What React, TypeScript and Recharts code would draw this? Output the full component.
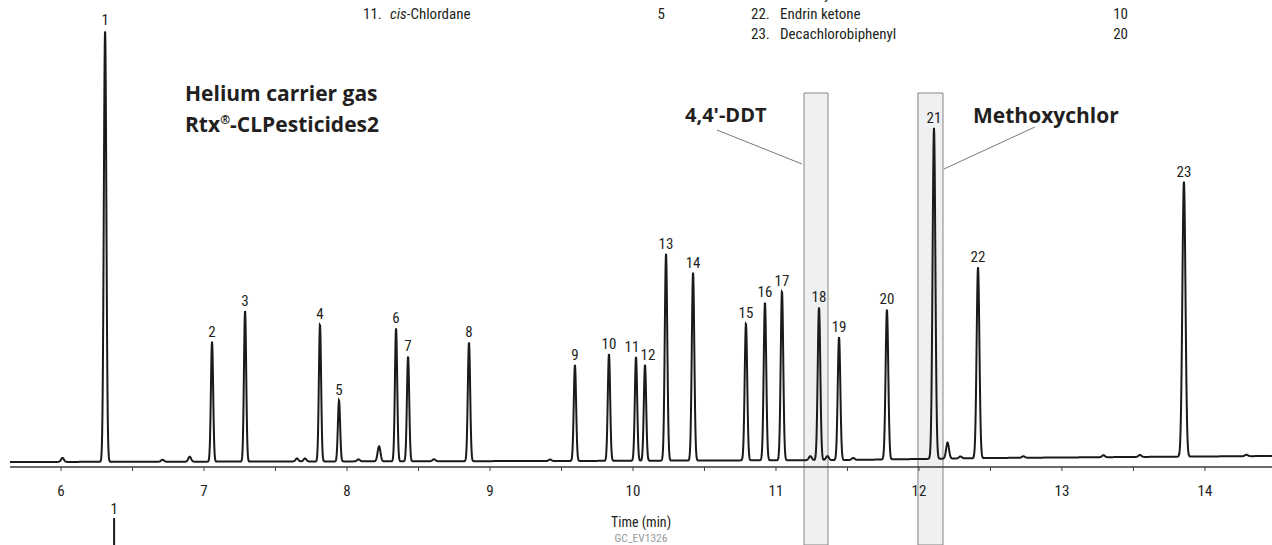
import React from 'react';
import {
  ComposedChart,
  Line,
  XAxis,
  YAxis,
  ReferenceArea,
  ReferenceLine,
  ReferenceDot,
  Customized,
  Label,
} from 'recharts';

// ---- data ----
const peakLabels = ['1', '2', '3', '4', '5', '6', '7', '8', '9', '10', '11', '12', '13', '14', '15', '16', '17', '18', '19', '20', '21', '22', '23'];
const peakTimes = [6.308, 7.056, 7.287, 7.811, 7.944, 8.343, 8.427, 8.853, 9.594, 9.832, 10.021, 10.084, 10.231, 10.42, 10.79, 10.923, 11.042, 11.301, 11.441, 11.776, 12.105, 12.413, 13.853];
const peakHeights = [432, 120, 151, 137, 61, 133, 105, 119, 96, 107, 104, 96, 207, 188, 137, 158, 169, 153, 123, 150, 331, 191, 275];
const peakWidths = [0.0088, 0.0078, 0.0078, 0.0078, 0.0078, 0.008, 0.008, 0.0082, 0.0082, 0.0082, 0.0082, 0.0082, 0.0088, 0.0088, 0.0088, 0.0088, 0.0088, 0.009, 0.009, 0.0093, 0.0097, 0.0097, 0.0108];
// small horizontal nudges of the peak numbers (min) where two labels sit close
const labelNudges = [0, 0, 0, 0, 0, 0, 0, 0, 0, 0, -0.028, 0.021, 0, 0, 0, 0, 0, 0, 0, 0, 0, 0, 0];

const minorTimes = [6.01, 6.71, 6.9, 7.65, 7.706, 8.08, 8.224, 8.608, 9.42, 11.24, 11.36, 11.54, 12.2, 12.29, 12.73, 13.29, 13.545, 14.29];
const minorHeights = [4, 2, 5, 3, 3, 2, 15, 2, 1.5, 4, 4, 2, 16, 2, 1.5, 2, 2, 1.5];

const baselineTimes = [5.64, 9.5, 11.5, 12.5, 14.47];
const baselineLevels = [0, 1, 2, 4, 6];

const axisTicks = [6, 6.5, 7, 7.5, 8, 8.5, 9, 9.5, 10, 10.5, 11, 11.5, 12, 12.5, 13, 13.5, 14];
const xDomain = [5.643, 14.469];

// highlighted windows (min)
const ddtWindow = [11.196, 11.364];
const methoxyWindow = [11.993, 12.168];

const narrow = '"Liberation Sans Narrow", "Roboto Condensed", "DejaVu Sans Condensed", Roboto, sans-serif';
const boldFont = '"Open Sans", "Noto Sans", sans-serif';

function baselineAt(t: number) {
  for (let i = 0; i < baselineTimes.length - 1; i++) {
    if (t <= baselineTimes[i + 1]) {
      const f = (t - baselineTimes[i]) / (baselineTimes[i + 1] - baselineTimes[i]);
      return baselineLevels[i] + f * (baselineLevels[i + 1] - baselineLevels[i]);
    }
  }
  return baselineLevels[baselineLevels.length - 1];
}

function buildTrace() {
  const rows: { t: number; v: number }[] = [];
  const step = 0.0018;
  for (let t = xDomain[0]; t <= xDomain[1] + 1e-9; t += step) {
    let v = baselineAt(t);
    for (let i = 0; i < peakTimes.length; i++) {
      const d = (t - peakTimes[i]) / peakWidths[i];
      if (Math.abs(d) < 8) v += peakHeights[i] * Math.exp(-0.5 * d * d);
    }
    for (let i = 0; i < minorTimes.length; i++) {
      const d = (t - minorTimes[i]) / 0.01;
      if (Math.abs(d) < 8) v += minorHeights[i] * Math.exp(-0.5 * d * d);
    }
    rows.push({ t: Math.round(t * 10000) / 10000, v });
  }
  return rows;
}

const trace = buildTrace();

function Overlay() {
  const ink = '#231f20';
  return (
    <g>
      <text x={185} y={101} fontFamily={boldFont} fontWeight={700} fontSize={21} fill={ink}>Helium carrier gas</text>
      <text x={185} y={132} fontFamily={boldFont} fontWeight={700} fontSize={21} fill={ink}>
        Rtx<tspan fontSize={12} dy={-8}>®</tspan><tspan dy={8}>-CLPesticides2</tspan>
      </text>
      <text x={685} y={122} fontFamily={boldFont} fontWeight={700} fontSize={20} fill={ink}>4,4'-DDT</text>
      <text x={973} y={123} fontFamily={boldFont} fontWeight={700} fontSize={21} fill={ink}>Methoxychlor</text>

      <g fontFamily={narrow} fontSize={15} fill={ink}>
        <text x={751} y={-1}>21.</text>
        <text x={780} y={-1}>Methoxychlor</text>
        <text x={363} y={19}>11.</text>
        <text x={390} y={19}><tspan fontStyle="italic">cis</tspan>-Chlordane</text>
        <text x={665} y={19} textAnchor="end">5</text>
        <text x={751} y={19}>22.</text>
        <text x={780} y={19}>Endrin ketone</text>
        <text x={1128} y={19} textAnchor="end">10</text>
        <text x={751} y={39}>23.</text>
        <text x={780} y={39}>Decachlorobiphenyl</text>
        <text x={1128} y={39} textAnchor="end">20</text>
      </g>
    </g>
  );
}

export default function App() {
  return (
    <div style={{ position: 'absolute', left: 0, top: 0, width: 1272, height: 545, background: '#fff' }}>
      <ComposedChart width={1272} height={545} data={trace} margin={{ top: 0, right: 0, bottom: 0, left: 10 }}>
        <XAxis
          dataKey="t"
          type="number"
          domain={xDomain}
          allowDataOverflow
          ticks={axisTicks}
          interval={0}
          tickFormatter={(v: number) => (Number.isInteger(v) ? String(v) : '')}
          height={78}
          axisLine={{ stroke: '#3a3a3a', strokeWidth: 1.5 }}
          tickLine={{ stroke: '#3a3a3a', strokeWidth: 1 }}
          tickSize={4}
          tickMargin={14}
          tick={{ fontSize: 15, fill: '#231f20', fontFamily: narrow }}
        >
          <Label value="Time (min)" position="insideBottom" offset={18} style={{ fontSize: 14, fill: '#231f20', fontFamily: narrow }} />
          <Label value="GC_EV1326" position="insideBottom" offset={3} style={{ fontSize: 11.5, fill: '#9a9a9a', fontFamily: narrow }} />
        </XAxis>
        <YAxis hide type="number" domain={[-5, 462]} allowDataOverflow />

        <ReferenceArea x1={ddtWindow[0]} x2={ddtWindow[1]} y1={-83} y2={369} ifOverflow="visible" fill="#eff0f2" fillOpacity={1} stroke="#858585" strokeWidth={1} />
        <ReferenceArea x1={methoxyWindow[0]} x2={methoxyWindow[1]} y1={-83} y2={369} ifOverflow="visible" fill="#eff0f2" fillOpacity={1} stroke="#858585" strokeWidth={1} />

        <ReferenceLine segment={[{ x: 10.587, y: 332 }, { x: 11.182, y: 298 }]} stroke="#7a7a7a" strokeWidth={1} ifOverflow="visible" />
        <ReferenceLine segment={[{ x: 12.811, y: 335 }, { x: 12.175, y: 293 }]} stroke="#7a7a7a" strokeWidth={1} ifOverflow="visible" />

        <Line dataKey="v" type="linear" dot={false} stroke="#1a1a1a" strokeWidth={2} isAnimationActive={false} />

        {peakTimes.map((t, i) => (
          <ReferenceDot
            key={peakLabels[i]}
            x={t + labelNudges[i]}
            y={peakHeights[i] + baselineAt(t)}
            r={0}
            fill="none"
            stroke="none"
            ifOverflow="visible"
            label={{ value: peakLabels[i], position: 'top', offset: 5, fontSize: 15, fill: '#231f20', fontFamily: narrow }}
          />
        ))}

        {/* top of the next chromatogram below (peak 1) */}
        <ReferenceLine segment={[{ x: 6.371, y: -56 }, { x: 6.371, y: -90 }]} stroke="#1a1a1a" strokeWidth={2} ifOverflow="visible" />
        <ReferenceDot x={6.371} y={-56} r={0} fill="none" stroke="none" ifOverflow="visible" label={{ value: '1', position: 'top', offset: 4, fontSize: 15, fill: '#231f20', fontFamily: narrow }} />

        <Customized component={<Overlay />} />
      </ComposedChart>
    </div>
  );
}
